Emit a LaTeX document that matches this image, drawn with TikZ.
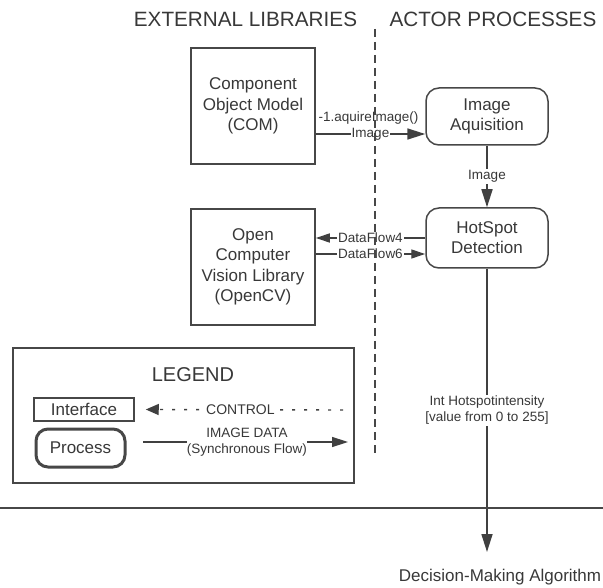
\documentclass[tikz,border=0pt]{standalone}
\usepackage{fontspec}
\setmainfont{Liberation Sans}
\usetikzlibrary{arrows.meta,positioning,calc}

\tikzset{
  ink/.style={draw=black!72, line width=1.5pt},
  txt/.style={text=black!78},
  libbox/.style={ink, txt, rectangle, inner sep=0pt, minimum width=124pt, minimum height=116pt,
    align=center, font=\fontsize{17}{20.5}\selectfont},
  procbox/.style={ink, txt, rectangle, rounded corners=13pt, inner sep=0pt, minimum width=122pt,
    minimum height=58pt, align=center, font=\fontsize{17}{20}\selectfont},
  heading/.style={txt, font=\fontsize{20.7}{24}\selectfont, inner sep=0pt},
  flowlabel/.style={txt, fill=white, inner sep=1pt, align=center, font=\fontsize{13.5}{16}\selectfont},
  bigarrow/.style={draw=black!75, line width=1.7pt, -{Triangle[length=18pt,width=11pt]}},
  smallarrow/.style={draw=black!75, line width=1.3pt, -{Triangle[length=14pt,width=9pt]}},
  plainline/.style={draw=black!72, line width=1.5pt},
  divider/.style={draw=black!72, line width=1.4pt, dash pattern=on 8pt off 5pt},
  ctrlarrow/.style={draw=black!75, line width=1.4pt, dash pattern=on 3pt off 9pt,
    -{Triangle[length=13pt,width=11pt]}},
}

\begin{document}
\begin{tikzpicture}[x=1pt,y=-1pt]
\useasboundingbox (0,0) rectangle (603,588);

% column headings
\node[heading] (hext) at (245.5,19) {EXTERNAL LIBRARIES};
\node[heading] (hact) at (493,19) {ACTOR PROCESSES};

% external libraries
\node[libbox] (com) at (253,106) {Component\\Object Model\\(COM)};
\node[libbox] (cv) at (253,267) {Open\\Computer\\Vision Library\\(OpenCV)};

% actor processes
\node[procbox, minimum height=57pt] (acq) at (487,116.5) {Image\\Aquisition};
\node[procbox, minimum height=60pt] (hot) at (487,238) {HotSpot\\Detection};

% COM -> Image Aquisition
\coordinate (imgrow) at ([yshift=-28pt]com.east);
\draw[bigarrow] (imgrow) -- node[flowlabel] (limg) {Image}
  node[txt, font=\fontsize{13.5}{16}\selectfont, inner sep=0pt, yshift=16pt, xshift=-2pt] (lacq) {-1.aquireImage()}
  (imgrow -| acq.west);

% Image Aquisition -> HotSpot Detection
\draw[bigarrow] (acq.south) -- node[flowlabel] (limg2) {Image} (hot.north);

% HotSpot Detection <-> OpenCV
\draw[smallarrow] (hot.west) -- node[flowlabel] (ldf4) {DataFlow4} (hot.west -| cv.east);
\coordinate (df6) at ([yshift=-16pt]hot.west);
\draw[smallarrow] (df6 -| cv.east) -- node[flowlabel] (ldf6) {DataFlow6} (df6);

% output towards the decision stage
\coordinate (outtip) at (487,552);
\draw[bigarrow] (hot.south) -- node[flowlabel, pos=0.5] (lint)
  {Int Hotspotintensity\\{[}value from 0 to 255{]}} (outtip);
\node[txt, font=\fontsize{17}{20}\selectfont, inner sep=0pt] (dma) at (500,577) {Decision-Making Algorithm};

% system boundary
\coordinate (bl) at (0,508);
\coordinate (br) at (603,508);
\draw[plainline, line width=1.3pt] (bl) -- (br);

% legend
\node[ink, rectangle, inner sep=0pt, minimum width=341pt, minimum height=135pt] (legend) at (183.5,415.5) {};
\node[txt, font=\fontsize{20}{24}\selectfont, inner sep=0pt] (legtitle) at (193,375) {LEGEND};
\node[ink, txt, rectangle, inner sep=0pt, minimum width=100pt, minimum height=23pt,
  font=\fontsize{17}{20}\selectfont] (iface) at (84,409.5) {Interface};
\node[ink, txt, line width=3pt, rectangle, rounded corners=12pt, inner sep=0pt, minimum width=89pt,
  minimum height=38pt, font=\fontsize{17}{20}\selectfont] (proc) at (80.5,448) {Process};

\coordinate (ctrlstart) at (343,410);
\coordinate (ctrltip) at ([xshift=11pt]iface.east);
\draw[ctrlarrow] (ctrlstart) -- node[flowlabel, pos=0.52, font=\fontsize{14}{16}\selectfont] (lctrl) {CONTROL} (ctrltip);

\coordinate (datastart) at (143,442);
\coordinate (datatip) at (348,442);
\draw[draw=black!75, line width=1.5pt, -{Triangle[length=16pt,width=10pt]}] (datastart) --
  node[flowlabel, pos=0.507, inner sep=0pt, font=\fontsize{13.5}{16}\selectfont] (ldata)
  {IMAGE DATA\\(Synchronous Flow)} (datatip);

% boundary between libraries and actors
\coordinate (dtop) at (375,29);
\coordinate (dbot) at (375,457);
\draw[divider] (dtop) -- (dbot);
\end{tikzpicture}
\end{document}
